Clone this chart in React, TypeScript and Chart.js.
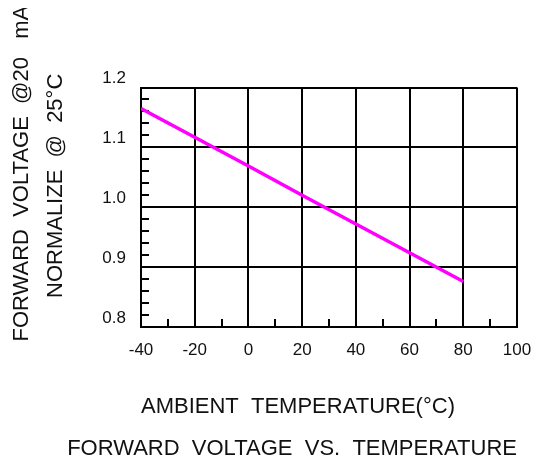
import React, { useEffect, useRef } from "react";
import { Chart, registerables } from "chart.js";

Chart.register(...registerables);

// Data
const temperatures = [-40, -20, 0, 20, 40, 60, 80];
const forwardVoltage = [1.165, 1.117, 1.069, 1.02, 0.972, 0.924, 0.876];

const xTickLabels = ["-40", "-20", "0", "20", "40", "60", "80", "100"];
const yTickLabels = ["0.8", "0.9", "1.0", "1.1", "1.2"];

const yTitleLines = [
  "           FORWARD  VOLTAGE  @20   mA",
  "       NORMALIZE  @  25°C",
];
const xTitle = "AMBIENT  TEMPERATURE(°C)";
const chartTitle = "FORWARD  VOLTAGE  VS.  TEMPERATURE";

const FONT = "'Liberation Sans', Arial, sans-serif";
const INK = "#111";

const isMajorX = (v: number) => Math.abs(v % 20) < 1e-9;
const isMajorY = (v: number) => Math.abs(v * 10 - Math.round(v * 10)) < 1e-6;

export default function App() {
  const canvasRef = useRef<HTMLCanvasElement | null>(null);

  useEffect(() => {
    if (!canvasRef.current) return;
    const chart = new Chart(canvasRef.current, {
      type: "line",
      data: {
        datasets: [
          {
            data: temperatures.map((t, i) => ({ x: t, y: forwardVoltage[i] })),
            borderColor: "#ff00ff",
            backgroundColor: "#ff00ff",
            borderWidth: 3.5,
            pointRadius: 0,
            tension: 0,
            fill: false,
          },
        ],
      },
      options: {
        animation: false,
        responsive: true,
        maintainAspectRatio: false,
        layout: { padding: { top: 79.5, right: 17, bottom: 0, left: 0 } },
        plugins: {
          legend: { display: false },
          tooltip: { enabled: false },
          title: {
            display: true,
            position: "bottom",
            align: "end",
            text: chartTitle,
            color: INK,
            font: { family: FONT, size: 22, weight: "normal", lineHeight: 1 },
            padding: { top: 0, bottom: -1.5 },
          },
        },
        scales: {
          x: {
            type: "linear",
            min: -40,
            max: 100,
            ticks: {
              stepSize: 10,
              autoSkip: false,
              maxRotation: 0,
              minRotation: 0,
              padding: 2,
              color: INK,
              font: { family: FONT, size: 17, lineHeight: 3.4 },
              callback: (v: any) => {
                const n = Number(v);
                if (!isMajorX(n)) return "";
                const idx = Math.round((n + 40) / 20);
                return xTickLabels[idx] ?? "";
              },
            },
            grid: {
              color: (ctx: any) =>
                ctx.tick && isMajorX(ctx.tick.value) ? "#000" : "rgba(0,0,0,0)",
              lineWidth: 2,
              drawTicks: true,
              tickLength: -8,
              tickColor: "#000",
              tickWidth: 2,
            },
            border: { display: true, color: "#000", width: 2 },
            title: {
              display: true,
              text: xTitle,
              align: "start",
              color: INK,
              font: { family: FONT, size: 22, lineHeight: 1 },
              padding: { top: 0, bottom: 20 },
            },
            afterFit: (scale: any) => {
              scale.height = 110.5;
            },
          },
          y: {
            type: "linear",
            min: 0.8,
            max: 1.2,
            ticks: {
              stepSize: 0.02,
              maxTicksLimit: 100,
              autoSkip: false,
              padding: 23,
              labelOffset: -9,
              color: INK,
              font: { family: FONT, size: 17 },
              callback: (v: any) => {
                const n = Number(v);
                if (!isMajorY(n)) return "";
                const idx = Math.round((n - 0.8) * 10);
                return yTickLabels[idx] ?? "";
              },
            },
            grid: {
              color: (ctx: any) =>
                ctx.tick && isMajorY(ctx.tick.value) ? "#000" : "rgba(0,0,0,0)",
              lineWidth: 2,
              drawTicks: true,
              tickLength: -8,
              tickColor: "#000",
              tickWidth: 2,
            },
            border: { display: true, color: "#000", width: 2 },
            title: {
              display: true,
              text: yTitleLines,
              color: INK,
              font: { family: FONT, size: 22, lineHeight: 1.52 },
              padding: { top: -2.7, bottom: 0 },
            },
            afterFit: (scale: any) => {
              scale.width = 133;
            },
          },
        },
      },
    });
    return () => chart.destroy();
  }, []);

  return (
    <div style={{ width: 526, height: 450, position: "relative" }}>
      <canvas ref={canvasRef} />
    </div>
  );
}
